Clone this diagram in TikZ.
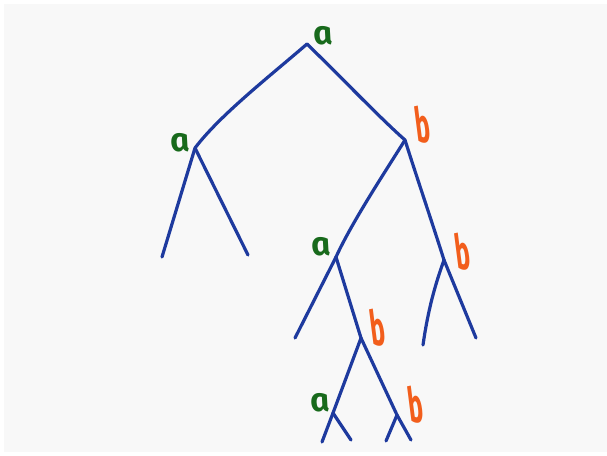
\documentclass[tikz,border=0pt]{standalone}
\usepackage{fontspec}
\setmainfont{Fira Sans}
\definecolor{treeblue}{RGB}{30,58,158}
\definecolor{lblgreen}{RGB}{24,106,28}
\definecolor{lblorange}{RGB}{242,94,28}
\definecolor{bggray}{RGB}{248,248,248}
\tikzset{
  edge/.style={draw=treeblue, line width=3.2pt, line cap=round, line join=round},
  alab/.style={text=lblgreen, font=\fontsize{33}{33}\selectfont\bfseries\itshape, inner sep=0pt, xslant=-0.2},
  blab/.style={text=lblorange, font=\fontsize{31}{31}\selectfont\bfseries\itshape, inner sep=0pt, xslant=-0.2, xscale=0.8, yscale=1.55},
}
\begin{document}
\begin{tikzpicture}[x=1pt,y=-1pt]
  \useasboundingbox (0,0) rectangle (607,455);
  \fill[white] (0,0) rectangle (607,455);
  \fill[bggray] (4,4) rectangle (607,452);

  % vertices
  \coordinate (r) at (307,44);
  \coordinate (la) at (195,148);
  \coordinate (rb) at (405,140);
  \coordinate (a2) at (336,257);
  \coordinate (b2) at (444,260);
  \coordinate (b3) at (361,338);
  \coordinate (a3) at (333,413);
  \coordinate (b4) at (397,415);
  % leaves
  \coordinate (l1) at (162,257);
  \coordinate (l2) at (248,255);
  \coordinate (l3) at (295,338);
  \coordinate (l4) at (423,345);
  \coordinate (l5) at (476,338);
  \coordinate (l6) at (322,442);
  \coordinate (l7) at (351,440);
  \coordinate (l8) at (386,441);
  \coordinate (l9) at (411,440);

  % edges
  \draw[edge] (r) .. controls (270,76) and (220,115) .. (la);
  \draw[edge] (r) .. controls (340,76) and (380,118) .. (rb);
  \draw[edge] (rb) .. controls (385,172) and (352,222) .. (a2);
  \draw[edge] (rb) .. controls (416,175) and (432,222) .. (b2);
  \draw[edge] (la) -- (l1);
  \draw[edge] (la) -- (l2);
  \draw[edge] (a2) -- (l3);
  \draw[edge] (a2) -- (b3);
  \draw[edge] (b2) .. controls (435,285) and (428,310) .. (l4);
  \draw[edge] (b2) -- (l5);
  \draw[edge] (b3) -- (a3);
  \draw[edge] (b3) -- (b4);
  \draw[edge] (a3) -- (l6);
  \draw[edge] (a3) -- (l7);
  \draw[edge] (b4) -- (l8);
  \draw[edge] (b4) -- (l9);

  % labels
  \node[alab] (ta0) at (323,36) {a};
  \node[alab] (ta1) at (180,143) {a};
  \node[blab] (tb1) at (422,125) {b};
  \node[alab] (ta2) at (321,247) {a};
  \node[blab] (tb2) at (462,252) {b};
  \node[blab] (tb3) at (377,328) {b};
  \node[alab] (ta3) at (320,403) {a};
  \node[blab] (tb4) at (415,405) {b};
\end{tikzpicture}
\end{document}
